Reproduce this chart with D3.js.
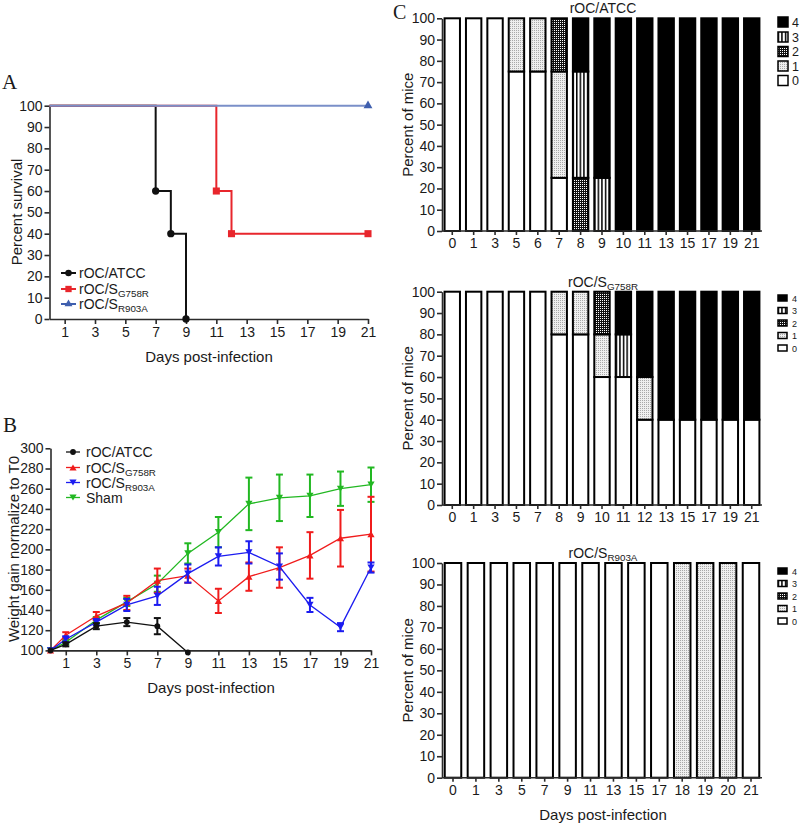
<!DOCTYPE html>
<html><head><meta charset="utf-8">
<script src="https://cdn.jsdelivr.net/npm/d3@7"></script>
<style>body{margin:0;background:#fff}</style>
</head><body>
<svg id="c" width="800" height="824"></svg>
<script>
// ---------- DATA ----------
// Panel A: Kaplan-Meier survival (day, percent)
const survATCC  = [[0,100],[7,60],[8,40],[9,0]];
const survG758R = [[0,100],[11,60],[12,40],[21,40]];
const survR903A = [[0,100],[21,100]];
const axisDaysOdd = [1,3,5,7,9,11,13,15,17,19,21];

// Panel B: weight gain normalized to T0 (mean, error)
const weightDays = [0,1,3,5,7,9,11,13,15,17,19,21];
const atccW   = [100,106,124,128,124,98];
const atccE   = [0,2,3,4,8,0];
const g758rW  = [100,115,134,147,169,174,149,173,182,194,211,215];
const g758rE  = [0,3,4,7,12,7,12,14,20,23,28,37];
const r903aW  = [100,111,128,145,154,176,193,197,183,145,123,182];
const r903aE  = [0,3,3,6,9,9,9,11,13,7,4,5];
const shamW   = [100,108,130,148,166,196,217,245,251,253,260,264];
const shamE   = [0,2,3,4,8,10,15,26,23,21,17,17];

// Panel C: clinical score distribution (percent of mice per score 0..4)
const scoreKeys = ['s0','s1','s2','s3','s4'];
const atccDays  = ['0','1','3','5','6','7','8','9','10','11','13','15','17','19','21'];
const atccS0 = [100,100,100,75,75,25,0,0,0,0,0,0,0,0,0];
const atccS1 = [0,0,0,25,25,50,0,0,0,0,0,0,0,0,0];
const atccS2 = [0,0,0,0,0,25,25,0,0,0,0,0,0,0,0];
const atccS3 = [0,0,0,0,0,0,50,25,0,0,0,0,0,0,0];
const atccS4 = [0,0,0,0,0,0,25,75,100,100,100,100,100,100,100];

const g758rDays = ['0','1','3','5','7','8','9','10','11','12','13','15','17','19','21'];
const g758rS0 = [100,100,100,100,100,80,80,60,60,40,40,40,40,40,40];
const g758rS1 = [0,0,0,0,0,20,20,20,0,20,0,0,0,0,0];
const g758rS2 = [0,0,0,0,0,0,0,20,0,0,0,0,0,0,0];
const g758rS3 = [0,0,0,0,0,0,0,0,20,0,0,0,0,0,0];
const g758rS4 = [0,0,0,0,0,0,0,0,20,40,60,60,60,60,60];

const r903aDays = ['0','1','3','5','7','9','11','13','15','17','18','19','20','21'];
const r903aS0 = [100,100,100,100,100,100,100,100,100,100,0,0,0,100];
const r903aS1 = [0,0,0,0,0,0,0,0,0,0,100,100,100,0];
const r903aS2 = [0,0,0,0,0,0,0,0,0,0,0,0,0,0];
const r903aS3 = [0,0,0,0,0,0,0,0,0,0,0,0,0,0];
const r903aS4 = [0,0,0,0,0,0,0,0,0,0,0,0,0,0];

const legendScores = ['4','3','2','1','0'];

// ---------- DRAWING ----------
const svg = d3.select('#c');
const FONT = "'Liberation Sans', Arial, Helvetica, sans-serif";
const SERIF = "'Liberation Serif', 'Times New Roman', serif";
const AX = '#2b2b2b';

function styleAxis(g, fs){
  g.selectAll('path,line').attr('stroke',AX).attr('stroke-width',1.6);
  g.selectAll('text').attr('font-family',FONT).attr('font-size',fs).attr('fill','#1a1a1a');
}
function label(txt, x, y, fs, opts={}){
  const t = svg.append('text').attr('x',x).attr('y',y).attr('font-family',opts.serif?SERIF:FONT)
    .attr('font-size',fs).attr('fill','#1a1a1a').attr('text-anchor',opts.anchor||'start');
  if(opts.rotate) t.attr('transform',`rotate(-90,${x},${y})`);
  t.text(txt);
  return t;
}
function subLabel(g, main, sub, x, y, fs, anchor){
  const t = g.append('text').attr('x',x).attr('y',y).attr('font-family',FONT).attr('font-size',fs)
    .attr('fill','#1a1a1a').attr('text-anchor',anchor||'start');
  t.append('tspan').text(main);
  if(sub) t.append('tspan').attr('font-size',fs*0.7).attr('dy',fs*0.22).text(sub);
  return t;
}

// defs / patterns
const defs = svg.append('defs');
const p1 = defs.append('pattern').attr('id','p1').attr('width',2).attr('height',2).attr('patternUnits','userSpaceOnUse');
p1.append('rect').attr('width',2).attr('height',2).attr('fill','#efefef');
p1.append('rect').attr('width',1).attr('height',1).attr('fill','#a9a9a9');
const p2 = defs.append('pattern').attr('id','p2').attr('width',2).attr('height',2).attr('patternUnits','userSpaceOnUse');
p2.append('rect').attr('width',2).attr('height',2).attr('fill','#111');
p2.append('rect').attr('width',1).attr('height',1).attr('fill','#fff');
const p3 = defs.append('pattern').attr('id','p3').attr('width',3.6).attr('height',4).attr('patternUnits','userSpaceOnUse');
p3.append('rect').attr('width',3.6).attr('height',4).attr('fill','#fff');
p3.append('rect').attr('width',1.5).attr('height',4).attr('fill','#000');
const fills = {s0:'#fff', s1:'url(#p1)', s2:'url(#p2)', s3:'url(#p3)', s4:'#000'};
const legendFill = {'0':'#fff','1':'url(#p1)','2':'url(#p2)','3':'url(#p3)','4':'#000'};

// ===== Panel A =====
label('A', 2, 89, 21, {serif:true});
const xA = d3.scaleLinear().domain([0,21]).range([49.5,368]);
const yA = d3.scaleLinear().domain([0,100]).range([319,105.7]);
svg.append('g').attr('transform','translate(49.5,0)')
  .call(d3.axisLeft(yA).tickValues(d3.range(0,101,10)).tickSize(5).tickSizeOuter(0).tickPadding(2))
  .call(styleAxis,14);
svg.append('g').attr('transform','translate(0,319)')
  .call(d3.axisBottom(xA).tickValues(axisDaysOdd).tickSize(5).tickSizeOuter(0).tickPadding(3))
  .call(styleAxis,14);
label('Percent survival', 22, 212, 15, {rotate:true, anchor:'middle'});
label('Days post-infection', 209, 362, 15, {anchor:'middle'});

const stepLine = d3.line().x(d=>xA(d[0])).y(d=>yA(d[1])).curve(d3.curveStepAfter);
const survSeries = [
  {data:survATCC, color:'#111111', sym:d3.symbolCircle, size:42, name:'rOC/ATCC', sub:''},
  {data:survG758R, color:'#e8262c', sym:d3.symbolSquare, size:50, name:'rOC/S', sub:'G758R'},
  {data:survR903A, color:'#7a8fc8', sym:d3.symbolTriangle, size:34, name:'rOC/S', sub:'R903A', mcol:'#3f5fae'}
];
survSeries.forEach(s=>{
  svg.append('path').attr('d',stepLine(s.data)).attr('fill','none').attr('stroke',s.color).attr('stroke-width',2);
  s.data.slice(1).forEach(d=>{
    svg.append('path').attr('d',d3.symbol().type(s.sym).size(s.size)())
      .attr('transform',`translate(${xA(d[0])},${yA(d[1])})`).attr('fill',s.mcol||s.color);
  });
});
// legend A
const legA = svg.append('g');
survSeries.forEach((s,i)=>{
  const y = [273,289,304][i];
  legA.append('line').attr('x1',61).attr('x2',76).attr('y1',y).attr('y2',y).attr('stroke',s.mcol||s.color).attr('stroke-width',2);
  legA.append('path').attr('d',d3.symbol().type(s.sym).size(s.size*0.8)()).attr('transform',`translate(68.5,${y})`).attr('fill',s.mcol||s.color);
  subLabel(legA, s.name, s.sub, 79, y+5, 14);
});

// ===== Panel B =====
label('B', 3, 432, 21, {serif:true});
const xB = d3.scaleLinear().domain([0,21]).range([50.5,371]);
const yB = d3.scaleLinear().domain([100,300]).range([650.4,448.3]);
svg.append('g').attr('transform','translate(50.5,0)')
  .call(d3.axisLeft(yB).tickValues(d3.range(100,301,20)).tickSize(5).tickSizeOuter(0).tickPadding(2))
  .call(styleAxis,14);
svg.append('g').attr('transform','translate(0,650.4)')
  .call(d3.axisBottom(xB).tickValues(axisDaysOdd).tickSize(5).tickSizeOuter(0).tickPadding(3))
  .call(styleAxis,14);
label('Weight gain normalize to T0', 19, 549, 15, {rotate:true, anchor:'middle'});
label('Days post-infection', 211, 693, 15, {anchor:'middle'});

const triDown = {draw(ctx,size){const s=Math.sqrt(size)*0.62; ctx.moveTo(-s,-s*0.85); ctx.lineTo(s,-s*0.85); ctx.lineTo(0,s*0.85); ctx.closePath();}};
const triUp = {draw(ctx,size){const s=Math.sqrt(size)*0.62; ctx.moveTo(-s,s*0.85); ctx.lineTo(s,s*0.85); ctx.lineTo(0,-s*0.85); ctx.closePath();}};
const wSeries = [
  {name:'Sham', sub:'', w:shamW, e:shamE, color:'#22b822', sym:triDown},
  {name:'rOC/S', sub:'G758R', w:g758rW, e:g758rE, color:'#f01c1c', sym:triUp},
  {name:'rOC/S', sub:'R903A', w:r903aW, e:r903aE, color:'#1c1cf0', sym:triDown},
  {name:'rOC/ATCC', sub:'', w:atccW, e:atccE, color:'#111111', sym:d3.symbolCircle}
];
const wLine = d3.line().x(d=>xB(d.day)).y(d=>yB(d.v));
wSeries.forEach(s=>{
  const pts = s.w.map((v,i)=>({day:weightDays[i], v, e:s.e[i]}));
  const g = svg.append('g');
  g.append('path').attr('d',wLine(pts)).attr('fill','none').attr('stroke',s.color).attr('stroke-width',1.3);
  pts.filter(p=>p.e>0).forEach(p=>{
    const x = xB(p.day);
    g.append('line').attr('x1',x).attr('x2',x).attr('y1',yB(p.v-p.e)).attr('y2',yB(p.v+p.e)).attr('stroke',s.color).attr('stroke-width',2);
    [p.v-p.e, p.v+p.e].forEach(v=>g.append('line').attr('x1',x-3.5).attr('x2',x+3.5).attr('y1',yB(v)).attr('y2',yB(v)).attr('stroke',s.color).attr('stroke-width',2));
  });
  pts.forEach(p=>g.append('path').attr('d',d3.symbol().type(s.sym).size(s.sym===d3.symbolCircle?26:34)())
    .attr('transform',`translate(${xB(p.day)},${yB(p.v)})`).attr('fill',s.color));
});
// legend B
const legBorder = [3,1,2,0];
const legB = svg.append('g');
legBorder.forEach((k,i)=>{
  const s = wSeries[k]; const y = [452,467.5,482.5,497.5][i];
  legB.append('line').attr('x1',66).attr('x2',80).attr('y1',y).attr('y2',y).attr('stroke',s.color).attr('stroke-width',1.3);
  legB.append('path').attr('d',d3.symbol().type(s.sym).size(s.sym===d3.symbolCircle?26:34)()).attr('transform',`translate(73,${y})`).attr('fill',s.color);
  subLabel(legB, s.name, s.sub, 86, y+5, 14);
});

// ===== Panel C =====
label('C', 393, 19, 20, {serif:true});
function drawC(cfg){
  const {days, cols, y0, y1, title, sub, legYs, bigLegend} = cfg;
  const rows = days.map((d,i)=>{const r={day:d}; scoreKeys.forEach((k,j)=>r[k]=cols[j][i]); return r;});
  const x = d3.scaleBand().domain(days).range([442,762]).paddingInner(0.28).paddingOuter(0.12);
  const y = d3.scaleLinear().domain([0,100]).range([y0,y1]);
  const stack = d3.stack().keys(scoreKeys)(rows);
  const g = svg.append('g');
  stack.forEach(layer=>{
    layer.forEach(d=>{
      if(d[1]-d[0] <= 0) return;
      g.append('rect').attr('x',x(d.data.day)).attr('width',x.bandwidth())
        .attr('y',y(d[1])).attr('height',y(d[0])-y(d[1]))
        .attr('fill',fills[layer.key]).attr('stroke','#000').attr('stroke-width',2);
    });
  });
  svg.append('g').attr('transform','translate(442,0)')
    .call(d3.axisLeft(y).tickValues(d3.range(0,101,10)).tickSize(5).tickSizeOuter(0).tickPadding(2))
    .call(styleAxis,14);
  const xa = svg.append('g').attr('transform',`translate(0,${y0})`)
    .call(d3.axisBottom(x).tickSize(4).tickSizeOuter(0).tickPadding(3));
  xa.select('.domain').attr('d',`M442,0H762`);
  xa.call(styleAxis,14);
  subLabel(svg, title, sub, 603, y1-5, 14, 'middle');
  label('Percent of mice', 413, (y0+y1)/2, 15, {rotate:true, anchor:'middle'});
  // legend
  legendScores.forEach((s,i)=>{
    const ly = legYs[i];
    if(bigLegend){
      svg.append('rect').attr('x',778).attr('y',ly-5).attr('width',10).attr('height',10).attr('fill',legendFill[s]).attr('stroke','#000').attr('stroke-width',1.5);
      label(s, 792, ly+4.5, 12.5);
    } else {
      svg.append('rect').attr('x',778).attr('y',ly-3).attr('width',9).attr('height',6).attr('fill',legendFill[s]).attr('stroke','#000').attr('stroke-width',1.5);
      label(s, 792, ly+3.5, 9);
    }
  });
}
drawC({days:atccDays, cols:[atccS0,atccS1,atccS2,atccS3,atccS4], y0:231, y1:18.3, title:'rOC/ATCC', sub:'', legYs:[22,37,51.5,66,80.5], bigLegend:true});
drawC({days:g758rDays, cols:[g758rS0,g758rS1,g758rS2,g758rS3,g758rS4], y0:505, y1:291.7, title:'rOC/S', sub:'G758R', legYs:[298,310.5,323,335.5,348], bigLegend:false});
drawC({days:r903aDays, cols:[r903aS0,r903aS1,r903aS2,r903aS3,r903aS4], y0:777.7, y1:563, title:'rOC/S', sub:'R903A', legYs:[571,583.5,596,608.5,621], bigLegend:false});
label('Days post-infection', 603, 820, 15, {anchor:'middle'});
</script>
</body></html>
